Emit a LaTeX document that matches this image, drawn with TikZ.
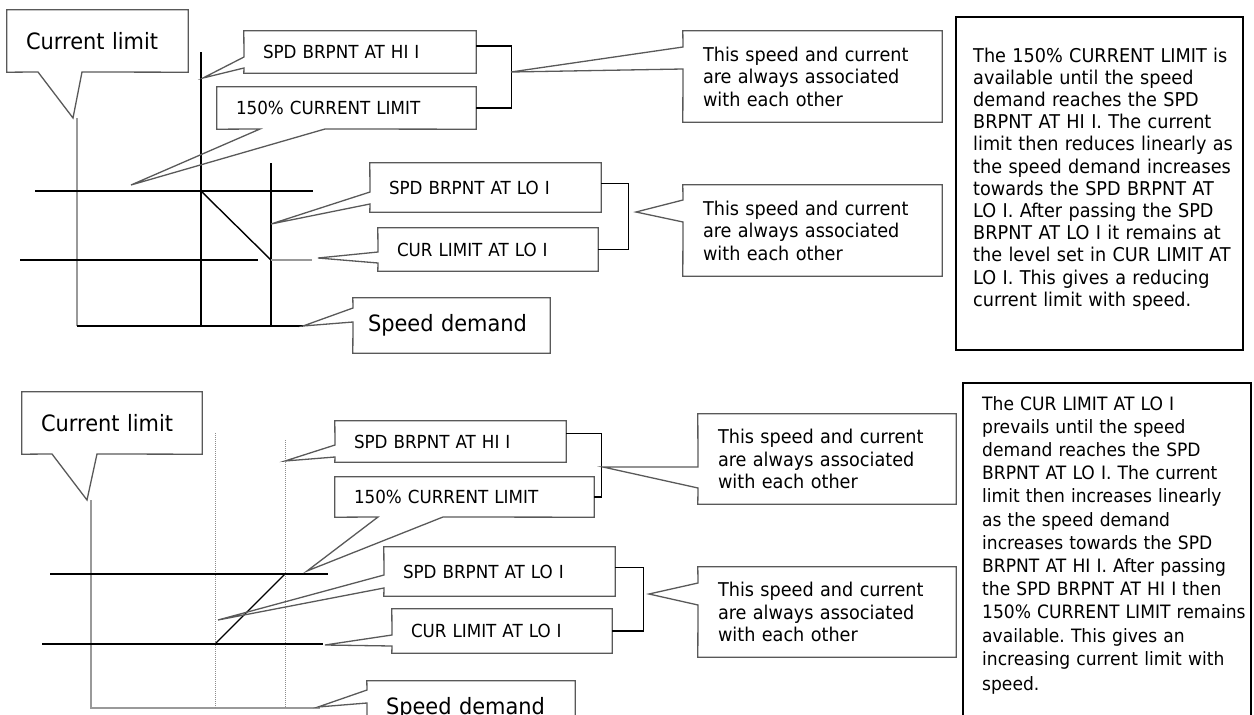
\documentclass[tikz,border=0pt]{standalone}
\usepackage{fontspec}
\setmainfont{DejaVu Sans}[FakeStretch=0.93]
\frenchspacing
\begin{document}
\begin{tikzpicture}[x=1pt,y=-1pt]
    \tikzstyle{tag}=[inner xsep=19pt, inner ysep=0pt, align=left, font=\fontsize{18}{21}\selectfont]
    \tikzstyle{axlbl}=[tag, font=\fontsize{22.5}{26}\selectfont]
    \tikzstyle{remark}=[tag, inner xsep=20pt, font=\fontsize{19}{22.5}\selectfont]
    \tikzstyle{callframe}=[draw=black!65, line width=1.3pt]
    \tikzstyle{plotline}=[line width=1.4pt]
    \tikzstyle{axisline}=[line width=1.4pt, black!40]
    \tikzstyle{guideline}=[line width=1pt, black!45, densely dotted]
    \tikzstyle{bracket}=[line width=1.3pt]
    \tikzstyle{infobox}=[line width=1.3pt]
    \tikzstyle{infotext}=[anchor=north west, inner sep=0pt, text width=285pt, align=left]

    \useasboundingbox (0,0) rectangle (1254,715);
    \clip (0,0) rectangle (1254,715);

    % reducing current limit
    \draw[axisline] (77,118) -- (77,326);
    \draw[plotline] (77,326) -- (303,326);
    \draw[plotline] (201,52) -- (201,326);
    \draw[plotline] (271,163) -- (271,326);
    \draw[plotline] (35,191) -- (313,191);
    \draw[plotline] (20,260) -- (258,260);
    \draw[plotline] (201,191) -- (271,260);
    \draw[axisline] (271,260) -- (312,260);

    \node[axlbl, text width=143pt, minimum height=62pt] (cl1) at (97.5,41) {Current limit};
    \coordinate (cl1p) at (73,118);
    \draw[callframe] (cl1.north west) -- (cl1.north east) -- (cl1.south east) -- (82,72) -- (cl1p) -- (38,72) -- (cl1.south west) -- cycle;

    \node[tag, text width=194pt, minimum height=42pt] (hi1) at (360,52) {SPD BRPNT AT HI I};
    \coordinate (hi1p) at (203,78);
    \draw[callframe] (hi1.north west) -- (hi1.north east) -- (hi1.south east) -- (hi1.south west) -- (244,68) -- (hi1p) -- (244,57) -- cycle;

    \node[tag, text width=221pt, minimum height=42pt] (pc1) at (346.5,108) {150\% CURRENT LIMIT};
    \coordinate (pc1p) at (131,185);
    \draw[callframe] (pc1.north west) -- (pc1.north east) -- (pc1.south east) -- (325,129) -- (pc1p) -- (260,129) -- (pc1.south west) -- cycle;

    \node[tag, text width=193pt, minimum height=49pt] (lo1) at (485.5,187.5) {SPD BRPNT AT LO I};
    \coordinate (lo1p) at (271,224);
    \draw[callframe] (lo1.north west) -- (lo1.north east) -- (lo1.south east) -- (lo1.south west) -- (370,204) -- (lo1p) -- (370,192) -- cycle;

    \node[tag, text width=182pt, minimum height=43pt] (cu1) at (488,249.5) {CUR LIMIT AT LO I};
    \coordinate (cu1p) at (318,258);
    \draw[callframe] (cu1.north west) -- (cu1.north east) -- (cu1.south east) -- (cu1.south west) -- (378,263) -- (cu1p) -- (378,252) -- cycle;

    \node[axlbl, inner xsep=15pt, text width=167pt, minimum height=55pt] (sd1) at (451.5,325.5) {Speed demand};
    \coordinate (sd1p) at (303,326);
    \draw[callframe] (sd1.north west) -- (sd1.north east) -- (sd1.south east) -- (sd1.south west) -- (353,322) -- (sd1p) -- (353,308) -- cycle;

    \draw[bracket] (hi1.3) -- ++(35,0) |- (pc1.east);
    \draw[bracket] (lo1.2) -- ++(27,0) |- (cu1.east);

    \node[remark, text width=219pt, minimum height=91pt] (ts1) at (812.5,76.5) {This speed and current\\are always associated\\with each other};
    \coordinate (ts1p) at (511,72);
    \draw[callframe] (ts1.north west) -- (ts1.north east) -- (ts1.south east) -- (ts1.south west) -- (683,69) -- (ts1p) -- (683,47) -- cycle;

    \node[remark, text width=219pt, minimum height=91pt] (ts2) at (812.5,230.5) {This speed and current\\are always associated\\with each other};
    \coordinate (ts2p) at (636,212);
    \draw[callframe] (ts2.north west) -- (ts2.north east) -- (ts2.south east) -- (ts2.south west) -- (683,222) -- (ts2p) -- (683,200) -- cycle;

    \draw[infobox] (956,17) rectangle (1243,350);
    \node[infotext, font=\fontsize{19}{22.2}\selectfont] (tb1) at (973,47.5) {The 150\% CURRENT LIMIT is\\available until the speed\\demand reaches the SPD\\BRPNT AT HI I. The current\\limit then reduces linearly as\\the speed demand increases\\towards the SPD BRPNT AT\\LO I. After passing the SPD\\BRPNT AT LO I it remains at\\the level set in CUR LIMIT AT\\LO I. This gives a reducing\\current limit with speed.};

    % increasing current limit
    \draw[axisline] (91,500) -- (91,708) -- (320,708);
    \draw[guideline] (215,433) -- (215,708);
    \draw[guideline] (285,440) -- (285,708);
    \draw[plotline] (50,574) -- (328,574);
    \draw[plotline] (42,644) -- (323,644);
    \draw[plotline] (215,644) -- (285,574);

    \node[axlbl, text width=142pt, minimum height=62pt] (cl2) at (112,423) {Current limit};
    \coordinate (cl2p) at (87,500);
    \draw[callframe] (cl2.north west) -- (cl2.north east) -- (cl2.south east) -- (97,454) -- (cl2p) -- (52,454) -- (cl2.south west) -- cycle;

    \node[tag, text width=193pt, minimum height=41pt] (hi2) at (450.5,441.5) {SPD BRPNT AT HI I};
    \coordinate (hi2p) at (285,461);
    \draw[callframe] (hi2.north west) -- (hi2.north east) -- (hi2.south east) -- (hi2.south west) -- (335,457) -- (hi2p) -- (335,445) -- cycle;

    \node[tag, text width=221pt, minimum height=40pt] (pc2) at (464.5,497) {150\% CURRENT LIMIT};
    \coordinate (pc2p) at (307,571);
    \draw[callframe] (pc2.north west) -- (pc2.north east) -- (pc2.south east) -- (443,517) -- (pc2p) -- (378,517) -- (pc2.south west) -- cycle;

    \node[tag, text width=193pt, minimum height=49pt] (lo2) at (499.5,571.5) {SPD BRPNT AT LO I};
    \coordinate (lo2p) at (218,620);
    \draw[callframe] (lo2.north west) -- (lo2.north east) -- (lo2.south east) -- (lo2.south west) -- (384,588) -- (lo2p) -- (384,575) -- cycle;

    \node[tag, text width=182pt, minimum height=44pt] (cu2) at (502,631) {CUR LIMIT AT LO I};
    \coordinate (cu2p) at (325,645);
    \draw[callframe] (cu2.north west) -- (cu2.north east) -- (cu2.south east) -- (cu2.south west) -- (392,646) -- (cu2p) -- (392,635) -- cycle;

    \node[axlbl, text width=170pt, minimum height=55pt] (sd2) at (471,708.5) {Speed demand};
    \coordinate (sd2p) at (318,707);
    \draw[callframe] (sd2.north west) -- (sd2.north east) -- (sd2.south east) -- (sd2.south west) -- (367,703) -- (sd2p) -- (367,690) -- cycle;

    \draw[bracket] (hi2.4) -- ++(35,0) |- (pc2.east);
    \draw[bracket] (lo2.2) -- ++(28,0) |- (cu2.east);

    \node[remark, text width=218pt, minimum height=90pt] (ts3) at (827,459) {This speed and current\\are always associated\\with each other};
    \coordinate (ts3p) at (603,467);
    \draw[callframe] (ts3.north west) -- (ts3.north east) -- (ts3.south east) -- (ts3.south west) -- (698,488) -- (ts3p) -- (698,467) -- cycle;

    \node[remark, text width=218pt, minimum height=90pt] (ts4) at (827,612) {This speed and current\\are always associated\\with each other};
    \coordinate (ts4p) at (649,594);
    \draw[callframe] (ts4.north west) -- (ts4.north east) -- (ts4.south east) -- (ts4.south west) -- (698,605) -- (ts4p) -- (698,583) -- cycle;

    \draw[infobox] (963,383) rectangle (1251,740);
    \node[infotext, font=\fontsize{18.4}{23.2}\selectfont] (tb2) at (982,396) {The CUR LIMIT AT LO I\\prevails until the speed\\demand reaches the SPD\\BRPNT AT LO I. The current\\limit then increases linearly\\as the speed demand\\increases towards the SPD\\BRPNT AT HI I. After passing\\the SPD BRPNT AT HI I then\\150\% CURRENT LIMIT remains\\available. This gives an\\increasing current limit with\\[2pt]speed.};
\end{tikzpicture}
\end{document}
